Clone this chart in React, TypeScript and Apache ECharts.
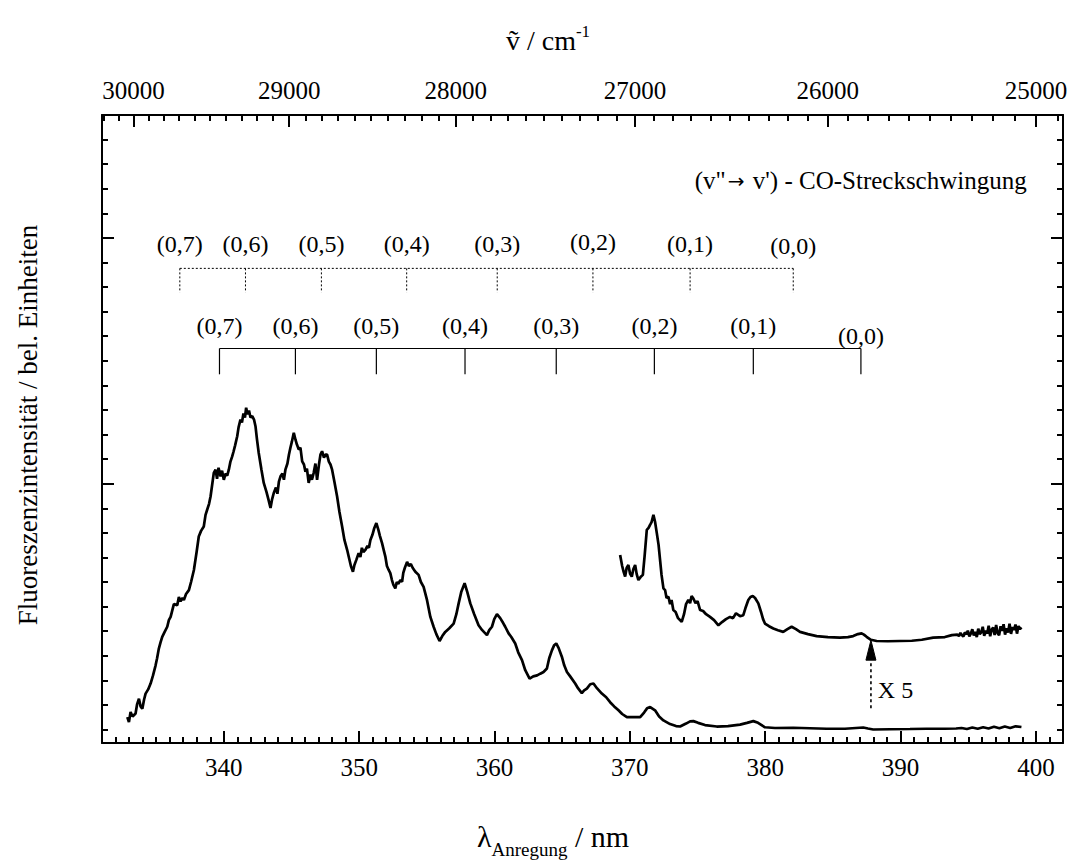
import React, { useEffect, useRef } from "react";
import * as echarts from "echarts";

const FONT = '"Liberation Serif", "Times New Roman", Times, serif';

// ---- axis ranges and tick labels ----
const X_MIN = 331; // nm
const X_MAX = 402;
const Y_MIN = -0.55;
const Y_MAX = 25;
const bottomTickNm = [340, 350, 360, 370, 380, 390, 400];
const topTickCm = [30000, 29000, 28000, 27000, 26000, 25000];
const yMajorTicks = [10, 20];

// ---- spectrum (excitation wavelength in nm, intensity in arb. units) ----
const mainNm = [
  332.87, 332.99, 333.11, 333.26, 333.48, 333.59, 333.73, 333.85, 333.98, 334.11,
  334.22, 334.41, 334.59, 334.77, 334.96, 335.07, 335.2, 335.33, 335.45, 335.62,
  335.82, 335.94, 336.07, 336.31, 336.56, 336.68, 336.8, 336.95, 337.05, 337.21,
  337.42, 337.58, 337.79, 337.99, 338.15, 338.32, 338.52, 338.65, 338.77, 338.91,
  339.02, 339.17, 339.26, 339.39, 339.5, 339.61, 339.76, 339.87, 340.0, 340.13,
  340.25, 340.37, 340.49, 340.62, 340.72, 340.83, 340.99, 341.09, 341.23, 341.34,
  341.45, 341.56, 341.65, 341.75, 341.86, 341.97, 342.1, 342.23, 342.34, 342.45,
  342.58, 342.78, 342.95, 343.15, 343.3, 343.45, 343.56, 343.69, 343.85, 343.96,
  344.07, 344.19, 344.33, 344.44, 344.55, 344.7, 344.81, 344.92, 345.03, 345.17,
  345.29, 345.4, 345.54, 345.66, 345.79, 345.92, 346.03, 346.14, 346.27, 346.4,
  346.51, 346.64, 346.77, 346.89, 347.03, 347.14, 347.26, 347.4, 347.51, 347.63,
  347.76, 347.88, 348.0, 348.17, 348.37, 348.54, 348.74, 348.91, 349.11, 349.23,
  349.39, 349.54, 349.65, 349.79, 349.96, 350.09, 350.2, 350.31, 350.46, 350.61,
  350.72, 350.83, 350.98, 351.12, 351.27, 351.42, 351.53, 351.69, 351.81, 351.94,
  352.05, 352.18, 352.3, 352.42, 352.53, 352.67, 352.78, 352.89, 353.04, 353.17,
  353.26, 353.37, 353.54, 353.67, 353.82, 353.96, 354.15, 354.39, 354.56, 354.76,
  355.01, 355.26, 355.5, 355.7, 355.94, 356.14, 356.36, 356.66, 356.98, 357.18,
  357.35, 357.54, 357.79, 357.99, 358.21, 358.5, 358.82, 359.09, 359.44, 359.61,
  359.81, 359.98, 360.18, 360.42, 360.64, 360.79, 361.04, 361.24, 361.53, 361.75,
  362.03, 362.27, 362.59, 362.86, 363.15, 363.38, 363.62, 363.87, 364.04, 364.24,
  364.41, 364.56, 364.74, 364.98, 365.15, 365.35, 365.59, 365.96, 366.18, 366.45,
  366.62, 366.82, 367.07, 367.31, 367.58, 367.93, 368.25, 368.54, 368.84, 369.16,
  369.43, 369.78, 370.26, 370.76, 371.05, 371.27, 371.5, 371.86, 372.16, 372.48,
  372.97, 373.41, 373.71, 374.15, 374.45, 374.69, 375.04, 375.55, 376.42, 377.25,
  378.14, 378.65, 379.12, 379.47, 379.98, 380.72, 382.07, 383.3, 384.54, 385.89,
  386.7, 387.24, 387.59, 387.98, 389.21, 390.69, 391.92, 393.27, 394.1, 394.5,
  394.9, 395.3, 395.7, 396.1, 396.5, 396.9, 397.3, 397.7, 398.1, 398.5, 398.93,
];
const mainVal = [
  0.5, 0.3, 0.71, 0.53, 0.65, 1.02, 1.25, 0.94, 0.84, 1.22,
  1.46, 1.63, 1.87, 2.2, 2.61, 2.9, 3.29, 3.55, 3.77, 3.96,
  4.18, 4.45, 4.58, 5.1, 5.06, 5.39, 5.22, 5.35, 5.27, 5.51,
  5.67, 6.0, 6.49, 7.22, 7.85, 8.08, 8.26, 8.73, 8.94, 9.18,
  9.48, 10.08, 10.44, 10.57, 10.2, 10.65, 10.3, 10.53, 10.16, 10.41,
  10.33, 10.57, 10.9, 11.11, 11.31, 11.55, 11.93, 12.29, 12.61, 12.49,
  12.86, 12.69, 13.09, 12.82, 12.98, 12.69, 12.75, 12.61, 12.34, 11.8,
  11.25, 10.57, 10.03, 9.67, 9.35, 9.01, 9.35, 9.62, 9.84, 9.59,
  10.08, 10.3, 10.41, 10.16, 10.57, 10.82, 11.18, 11.46, 11.71, 12.07,
  11.8, 11.59, 11.39, 11.47, 10.91, 10.78, 10.49, 10.61, 10.03, 10.37,
  10.16, 10.44, 10.82, 10.16, 10.78, 11.18, 11.32, 11.06, 11.18, 11.18,
  10.9, 10.78, 10.57, 10.08, 9.48, 8.86, 8.26, 7.71, 7.31, 7.03,
  6.65, 6.42, 6.69, 6.9, 7.17, 7.02, 7.39, 7.22, 7.31, 7.47,
  7.39, 7.71, 7.92, 8.2, 8.4, 8.12, 7.88, 7.58, 7.31, 7.02,
  6.65, 6.49, 6.36, 6.08, 5.88, 5.74, 6.0, 5.92, 6.08, 6.01,
  6.37, 6.57, 6.82, 6.65, 6.73, 6.57, 6.42, 6.29, 6.0, 5.8,
  5.27, 4.58, 4.18, 3.88, 3.6, 3.8, 3.97, 4.12, 4.31, 4.69,
  5.13, 5.59, 5.95, 5.59, 5.13, 4.69, 4.24, 4.04, 3.84, 4.04,
  4.18, 4.49, 4.69, 4.53, 4.33, 4.18, 3.91, 3.76, 3.5, 3.14,
  2.82, 2.41, 2.07, 2.16, 2.2, 2.27, 2.34, 2.48, 2.9, 3.22,
  3.43, 3.5, 3.31, 2.95, 2.61, 2.34, 2.16, 1.87, 1.67, 1.48,
  1.59, 1.66, 1.84, 1.87, 1.67, 1.46, 1.31, 1.11, 0.94, 0.78,
  0.63, 0.5, 0.5, 0.5, 0.69, 0.86, 0.91, 0.78, 0.53, 0.37,
  0.22, 0.14, 0.12, 0.24, 0.33, 0.34, 0.27, 0.18, 0.12, 0.14,
  0.2, 0.27, 0.34, 0.27, 0.09, 0.06, 0.07, 0.05, 0.03, 0.03,
  0.06, 0.08, 0.04, 0.0, 0.01, 0.02, 0.03, 0.03, 0.04, 0.06,
  0.02, 0.08, 0.03, 0.09, 0.04, 0.11, 0.05, 0.12, 0.06, 0.13, 0.1,
];

// ---- magnified (x 5) trace ----
const x5Nm = [
  369.28, 369.43, 369.54, 369.65, 369.76, 369.89, 370.02, 370.14, 370.26, 370.39,
  370.5, 370.63, 370.79, 370.96, 371.09, 371.25, 371.38, 371.5, 371.61, 371.74,
  371.86, 371.99, 372.12, 372.23, 372.34, 372.48, 372.6, 372.71, 372.85, 372.97,
  373.08, 373.21, 373.38, 373.56, 373.83, 374.0, 374.15, 374.32, 374.45, 374.56,
  374.69, 374.85, 375.0, 375.19, 375.41, 375.63, 375.92, 376.22, 376.54, 376.81,
  377.1, 377.4, 377.62, 377.84, 378.14, 378.38, 378.54, 378.75, 378.91, 379.08,
  379.25, 379.49, 379.69, 379.84, 379.98, 380.28, 380.6, 380.94, 381.33, 381.64,
  381.95, 382.27, 382.57, 383.16, 383.8, 384.63, 385.52, 386.11, 386.5, 386.85,
  387.12, 387.29, 387.49, 387.81, 388.23, 389.06, 389.95, 390.83, 391.57, 392.41,
  393.27, 393.79, 394.2, 394.31, 394.42, 394.53, 394.64, 394.75, 394.86, 394.97,
  395.08, 395.19, 395.3, 395.41, 395.52, 395.63, 395.74, 395.85, 395.96, 396.07,
  396.18, 396.29, 396.4, 396.51, 396.62, 396.73, 396.84, 396.95, 397.06, 397.17,
  397.28, 397.39, 397.5, 397.61, 397.72, 397.83, 397.94, 398.05, 398.16, 398.27,
  398.38, 398.49, 398.6, 398.71, 398.82, 398.93,
];
const x5Val = [
  7.1, 6.65, 6.41, 6.22, 6.57, 6.69, 6.33, 6.22, 6.53, 6.69,
  6.33, 6.08, 6.2, 6.29, 7.06, 8.12, 8.2, 8.33, 8.45, 8.73,
  8.45, 7.99, 7.51, 6.9, 6.29, 5.74, 5.67, 5.35, 5.4, 5.1,
  5.27, 4.86, 4.78, 4.53, 4.38, 4.69, 5.1, 5.27, 5.14, 5.43,
  5.33, 5.14, 5.22, 4.86, 4.82, 4.69, 4.58, 4.45, 4.24, 4.37,
  4.49, 4.58, 4.53, 4.73, 4.61, 4.65, 4.94, 5.27, 5.39, 5.43,
  5.35, 5.13, 4.78, 4.49, 4.31, 4.2, 4.11, 4.04, 3.97, 4.08,
  4.18, 4.08, 3.97, 3.88, 3.8, 3.76, 3.74, 3.76, 3.8, 3.88,
  3.91, 3.86, 3.77, 3.65, 3.6, 3.59, 3.6, 3.61, 3.65, 3.74,
  3.76, 3.84, 3.86, 3.8, 3.93, 3.84, 3.78, 3.95, 3.87, 4.02,
  3.79, 3.9, 4.08, 3.83, 3.97, 3.76, 4.1, 3.88, 3.95, 4.18,
  3.81, 4.02, 3.9, 4.22, 3.79, 4.07, 4.15, 3.84, 4.25, 3.92,
  3.83, 4.2, 4.01, 4.28, 3.86, 4.12, 3.94, 4.3, 3.89, 4.17,
  4.05, 4.27, 3.9, 4.21, 4.08, 4.15,
];

// ---- vibrational progressions (CO stretch) ----
const solidCombNm = [339.68, 345.29, 351.27, 357.82, 364.56, 371.81, 379.12, 387.07];
const solidLabels = ["(0,7)", "(0,6)", "(0,5)", "(0,4)", "(0,3)", "(0,2)", "(0,1)", "(0,0)"];
const solidLabelVal = [16.41, 16.41, 16.41, 16.41, 16.41, 16.41, 16.41, 16.0];
const dottedCombNm = [336.75, 341.6, 347.21, 353.51, 360.2, 367.27, 374.45, 382.07];
const dottedLabels = ["(0,7)", "(0,6)", "(0,5)", "(0,4)", "(0,3)", "(0,2)", "(0,1)", "(0,0)"];
const dottedLabelVal = [19.76, 19.76, 19.76, 19.76, 19.76, 19.82, 19.76, 19.69];
const SOLID_BAR = 15.5;
const SOLID_TICK_END = 14.45;
const DOTTED_BAR = 18.76;
const DOTTED_TICK_END = 17.78;
const CO_PARTS = ["(v\"", "\u2192", " v') - CO-Streckschwingung"];
const CO_POS = [399.32, 22.33];
const ARROW_NM = 387.81;
const ARROW_FROM = 0.86;
const ARROW_BASE = 2.82;
const ARROW_TIP = 3.63;
const X5_TEXT = "X 5";
const X5_POS = [388.32, 1.59];

// tick position lists
const bottomMinorNm: number[] = [];
for (let v = 332; v <= 401; v++) if (v % 10 !== 0) bottomMinorNm.push(v);
const topTickNm = topTickCm.map((n) => 1e7 / n);
const topMinorNm: number[] = [];
for (let n = 24900; n <= 30200; n += 100) if (n % 1000 !== 0) topMinorNm.push(1e7 / n);
const yMinorTicks: number[] = [];
for (let v = 0; v <= 24; v++) if (!yMajorTicks.includes(v)) yMinorTicks.push(v);

const BLACK = "#000";

function xAxisDef(position: "top" | "bottom", ticks: number[], len: number, withLine: boolean, labels: boolean, formatter?: (v: number) => string) {
  return {
    type: "value",
    position,
    min: X_MIN,
    max: X_MAX,
    axisLine: { show: withLine, onZero: false, lineStyle: { color: BLACK, width: 2 } },
    axisTick: { show: true, inside: true, length: len, customValues: ticks, lineStyle: { color: BLACK, width: 2 } },
    axisLabel: labels
      ? { show: true, customValues: ticks, color: BLACK, fontFamily: FONT, fontSize: 25, margin: 12, formatter }
      : { show: false },
    splitLine: { show: false },
  };
}

function yAxisDef(position: "left" | "right", ticks: number[], len: number, withLine: boolean) {
  return {
    type: "value",
    position,
    min: Y_MIN,
    max: Y_MAX,
    axisLine: { show: withLine, onZero: false, lineStyle: { color: BLACK, width: 2 } },
    axisTick: { show: true, inside: true, length: len, customValues: ticks, lineStyle: { color: BLACK, width: 2 } },
    axisLabel: { show: false },
    splitLine: { show: false },
  };
}

export default function App() {
  const ref = useRef<HTMLDivElement>(null);
  useEffect(() => {
    document.body.style.margin = "0";
    const chart = echarts.init(ref.current!, null, { renderer: "svg" });
    const textFont = `24px ${FONT}`;
    const option: any = {
      animation: false,
      backgroundColor: "#fff",
      textStyle: { fontFamily: FONT, color: BLACK },
      grid: { left: 102, right: 13, top: 115, bottom: 120, containLabel: false, outerBoundsMode: "none" },
      xAxis: [
        xAxisDef("bottom", bottomTickNm, 12, true, true),
        xAxisDef("bottom", bottomMinorNm, 6, false, false),
        xAxisDef("top", topTickNm, 12, true, true, (v: number) => String(Math.round(1e7 / v))),
        xAxisDef("top", topMinorNm, 6, false, false),
      ],
      yAxis: [
        yAxisDef("left", yMajorTicks, 12, true),
        yAxisDef("left", yMinorTicks, 6, false),
        yAxisDef("right", yMajorTicks, 12, true),
        yAxisDef("right", yMinorTicks, 6, false),
      ],
      series: [
        {
          type: "line",
          xAxisIndex: 0,
          yAxisIndex: 0,
          data: mainNm.map((x, i) => [x, mainVal[i]]),
          showSymbol: false,
          lineStyle: { color: BLACK, width: 2.7 },
          z: 3,
        },
        {
          type: "line",
          xAxisIndex: 0,
          yAxisIndex: 0,
          data: x5Nm.map((x, i) => [x, x5Val[i]]),
          showSymbol: false,
          lineStyle: { color: BLACK, width: 2.7 },
          z: 3,
        },
        {
          type: "custom",
          xAxisIndex: 0,
          yAxisIndex: 0,
          clip: false,
          silent: true,
          data: [[X_MIN, Y_MIN]],
          renderItem: (_params: any, api: any) => {
            const c = (x: number, y: number) => api.coord([x, y]);
            const children: any[] = [];
            const lineEl = (a: number[], b: number[], dash?: number[], w = 1.2) => ({
              type: "line",
              shape: { x1: a[0], y1: a[1], x2: b[0], y2: b[1] },
              style: { stroke: BLACK, lineWidth: w, lineDash: dash || null },
            });
            const textEl = (t: string, p: number[], align = "center") => ({
              type: "text",
              x: p[0],
              y: p[1],
              style: { text: t, fill: BLACK, font: textFont, align, verticalAlign: "middle" },
            });
            // solid progression
            children.push(lineEl(c(solidCombNm[0], SOLID_BAR), c(solidCombNm[solidCombNm.length - 1], SOLID_BAR)));
            solidCombNm.forEach((v, i) => {
              children.push(lineEl(c(v, SOLID_BAR), c(v, SOLID_TICK_END)));
              children.push(textEl(solidLabels[i], c(v, solidLabelVal[i])));
            });
            // dotted progression
            const dd = [2, 2];
            children.push(lineEl(c(dottedCombNm[0], DOTTED_BAR), c(dottedCombNm[dottedCombNm.length - 1], DOTTED_BAR), dd, 1));
            dottedCombNm.forEach((v, i) => {
              children.push(lineEl(c(v, DOTTED_BAR), c(v, DOTTED_TICK_END), dd, 1));
              children.push(textEl(dottedLabels[i], c(v, dottedLabelVal[i])));
            });
            // heading
            const hp = c(CO_POS[0], CO_POS[1]);
            children.push({
              type: "text",
              x: hp[0],
              y: hp[1],
              style: {
                text: `{t|${CO_PARTS[0]}}{ar|${CO_PARTS[1]}}{t|${CO_PARTS[2]}}`,
                align: "right",
                verticalAlign: "middle",
                rich: {
                  t: { fontFamily: FONT, fontSize: 25, fill: BLACK, lineHeight: 30 },
                  ar: { fontFamily: '"DejaVu Sans", sans-serif', fontSize: 20, fill: BLACK, lineHeight: 30, padding: [0, 2, 0, 2] },
                },
              },
            });
            // x5 arrow
            const a0 = c(ARROW_NM, ARROW_FROM);
            const a1 = c(ARROW_NM, ARROW_BASE);
            const a2 = c(ARROW_NM, ARROW_TIP);
            children.push(lineEl(a0, a1, [3, 3], 1.6));
            children.push({
              type: "polygon",
              shape: { points: [[a2[0], a2[1]], [a1[0] - 5, a1[1]], [a1[0] + 5, a1[1]]] },
              style: { fill: BLACK, stroke: BLACK, lineWidth: 1 },
            });
            children.push(textEl(X5_TEXT, c(X5_POS[0], X5_POS[1]), "left"));
            return { type: "group", children };
          },
          z: 4,
        },
      ],
      graphic: [
        {
          type: "text",
          x: 548,
          y: 40,
          style: {
            text: "{a|\u1E7D / cm}{b|-1}",
            align: "center",
            verticalAlign: "middle",
            rich: {
              a: { fontFamily: FONT, fontSize: 28, fill: BLACK, lineHeight: 34 },
              b: { fontFamily: FONT, fontSize: 17, fill: BLACK, verticalAlign: "top", lineHeight: 34 },
            },
          },
        },
        {
          type: "text",
          x: 553,
          y: 836,
          style: {
            text: "{a|\u03BB}{b|Anregung}{a| / nm}",
            align: "center",
            verticalAlign: "middle",
            rich: {
              a: { fontFamily: FONT, fontSize: 30, fill: BLACK, lineHeight: 46 },
              b: { fontFamily: FONT, fontSize: 19, fill: BLACK, verticalAlign: "bottom", lineHeight: 46 },
            },
          },
        },
        {
          type: "text",
          x: 28,
          y: 425,
          rotation: Math.PI / 2,
          style: {
            text: "Fluoreszenzintensit\u00E4t / bel. Einheiten",
            fontFamily: FONT,
            fontSize: 27,
            fill: BLACK,
            align: "center",
            verticalAlign: "middle",
          },
        },
      ],
    };
    chart.setOption(option);
    return () => chart.dispose();
  }, []);
  return <div ref={ref} style={{ width: 1076, height: 863 }} />;
}
